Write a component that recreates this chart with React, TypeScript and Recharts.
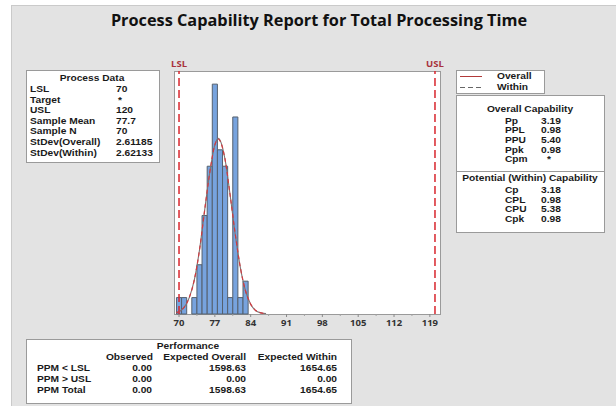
import React from "react";
import {
  ComposedChart, Line, XAxis, YAxis, ReferenceArea, ReferenceLine,
} from "recharts";

// ── data ────────────────────────────────────────────────────────────────────
const binCenters = [70, 71, 72, 73, 74, 75, 76, 77, 78, 79, 80, 81, 82, 83];
const binCounts  = [1, 1, 0, 1, 3, 6, 9, 14, 10, 9, 1, 12, 1, 2];

// fitted curves (counts per bin)
const curveX     = [69.5, 71, 72, 73, 74, 75, 76, 77, 77.7, 78, 79, 80, 81, 82, 83, 84, 85, 86, 87];
const overallFit = [0.08, 0.4, 1.0, 2.1, 3.9, 6.3, 8.6, 10.3, 10.7, 10.6, 9.4, 7.2, 4.8, 2.8, 1.4, 0.6, 0.2, 0.07, 0.02];
const withinFit  = [0.08, 0.41, 1.0, 2.1, 3.9, 6.3, 8.6, 10.3, 10.65, 10.55, 9.4, 7.2, 4.85, 2.8, 1.4, 0.6, 0.21, 0.07, 0.02];

const majorTicks = [70, 77, 84, 91, 98, 105, 112, 119];
const minorTicks = [73.5, 80.5, 87.5, 94.5, 101.5, 108.5, 115.5];

const LSL = 70;
const USL = 120;

const processLabels = ["LSL", "Target", "USL", "Sample Mean", "Sample N", "StDev(Overall)", "StDev(Within)"];
const processValues = ["70", "*", "120", "77.7", "70", "2.61185", "2.62133"];

const overallLabels = ["Pp", "PPL", "PPU", "Ppk", "Cpm"];
const overallValues = ["3.19", "0.98", "5.40", "0.98", "*"];
const withinLabels  = ["Cp", "CPL", "CPU", "Cpk"];
const withinValues  = ["3.18", "0.98", "5.38", "0.98"];

const perfColumns  = ["Observed", "Expected Overall", "Expected Within"];
const perfRows     = ["PPM < LSL", "PPM > USL", "PPM Total"];
const perfObserved = ["0.00", "0.00", "0.00"];
const perfOverall  = ["1598.63", "0.00", "1598.63"];
const perfWithin   = ["1654.65", "0.00", "1654.65"];

const chartData = curveX.map((x, i) => ({ x, overall: overallFit[i], within: withinFit[i] }));

const FONT = "'Open Sans', 'Noto Sans', sans-serif";
const PANEL_FONT = "'Liberation Sans', Arial, sans-serif";
const X_DOMAIN: [number, number] = [69.02, 120.98];

// panel text: narrow font, stretched sideways like the Minitab output
function Txt({ x, y, children, align = "left", size = 8.3, weight = 700, color = "#1a1a1a", sx = 1.23, font = PANEL_FONT }: any) {
  const tx = align === "center" ? "-50%" : align === "right" ? "-100%" : "0";
  const origin = align === "center" ? "center center" : align === "right" ? "right center" : "left center";
  return (
    <span
      style={{
        position: "absolute", left: x, top: y,
        transform: `translate(${tx}, -50%) scaleX(${sx})`, transformOrigin: origin,
        fontFamily: font, fontSize: size, fontWeight: weight, color, whiteSpace: "pre",
        lineHeight: "normal",
      }}
    >
      {children}
    </span>
  );
}

const box = (left: number, top: number, width: number, height: number): React.CSSProperties => ({
  position: "absolute", left, top, width, height, background: "#fff",
  border: "1px solid #9a9a9a", boxSizing: "border-box",
});

export default function App() {
  return (
    <div style={{ position: "fixed", left: 0, top: 0, width: 616, height: 406, background: "#fff", overflow: "hidden" }}>
      {/* gray panel */}
      <div style={{ position: "absolute", left: 11, top: 5, right: 0, bottom: 0, background: "#e3e3e3", borderLeft: "1px solid #cacaca", borderTop: "1px solid #cacaca" }} />

      <Txt x={319} y={20} align="center" size={16.3} weight={700} sx={1} font={FONT} color="#111">
        Process Capability Report for Total Processing Time
      </Txt>

      {/* plot frame */}
      <div style={box(174, 71, 267, 244)} />

      <div style={{ position: "absolute", left: 0, top: 0 }}>
        <ComposedChart
          width={616}
          height={406}
          data={chartData}
          margin={{ top: 71, left: 174, right: 176, bottom: 72 }}
        >
          <XAxis
            dataKey="x"
            type="number"
            domain={X_DOMAIN}
            allowDataOverflow
            ticks={majorTicks}
            interval={0}
            height={20}
            axisLine={false}
            tickSize={3}
            tickMargin={2}
            tickLine={{ stroke: "#8a8a8a" }}
            tick={{ fontSize: 9.5, fill: "#333", fontFamily: FONT, fontWeight: 700 }}
          />
          <YAxis hide type="number" domain={[0, 14.8]} allowDataOverflow />

          {binCenters.map((c, i) =>
            binCounts[i] > 0 ? (
              <ReferenceArea
                key={c}
                x1={c - 0.5}
                x2={c + 0.5}
                y1={0}
                y2={binCounts[i]}
                fill="#77a3de"
                fillOpacity={1}
                stroke="#55606e"
                strokeWidth={1}
                ifOverflow="visible"
              />
            ) : null
          )}

          {minorTicks.map((t) => (
            <ReferenceLine
              key={t}
              segment={[{ x: t, y: 0 }, { x: t, y: -0.12 }]}
              stroke="#a0a0a0"
              ifOverflow="visible"
            />
          ))}

          <ReferenceLine
            x={LSL}
            stroke="#d8262e"
            strokeWidth={1.5}
            strokeDasharray="8 4"
            label={{ value: "LSL", position: "top", fill: "#a8323c", fontSize: 9.5, fontWeight: 700, fontFamily: FONT, offset: 4 }}
          />
          <ReferenceLine
            x={USL}
            stroke="#d8262e"
            strokeWidth={1.5}
            strokeDasharray="8 4"
            label={{ value: "USL", position: "top", fill: "#a8323c", fontSize: 9.5, fontWeight: 700, fontFamily: FONT, offset: 4 }}
          />

          <Line type="monotone" dataKey="overall" stroke="#7d7373" strokeWidth={1.1} dot={false} isAnimationActive={false} />
          <Line type="monotone" dataKey="within" stroke="#d23a40" strokeWidth={1.2} strokeDasharray="4 3" dot={false} isAnimationActive={false} />
        </ComposedChart>
      </div>

      {/* Process Data */}
      <div style={box(26, 70, 134, 93)} />
      <Txt x={92} y={78} align="center">Process Data</Txt>
      {processLabels.map((l, i) => (
        <React.Fragment key={l}>
          <Txt x={30} y={89 + i * 10.6}>{l}</Txt>
          <Txt x={processValues[i] === "*" ? 118 : 116} y={89 + i * 10.6}>{processValues[i]}</Txt>
        </React.Fragment>
      ))}

      {/* legend */}
      <div style={box(456, 70, 89, 24)} />
      <div style={{ position: "absolute", left: 460, top: 76, width: 22, height: 1, background: "#b23a3a" }} />
      <div style={{ position: "absolute", left: 460, top: 87, width: 22, height: 1, background: "repeating-linear-gradient(to right, #666 0 5px, transparent 5px 8px)" }} />
      <Txt x={497} y={76}>Overall</Txt>
      <Txt x={497} y={87}>Within</Txt>

      {/* capability */}
      <div style={box(456, 95, 149, 138)} />
      <div style={{ position: "absolute", left: 456, top: 171, width: 149, height: 1, background: "#9a9a9a" }} />
      <Txt x={530} y={109} align="center">Overall Capability</Txt>
      {overallLabels.map((l, i) => (
        <React.Fragment key={l}>
          <Txt x={505} y={120.5 + i * 9.7}>{l}</Txt>
          <Txt x={overallValues[i] === "*" ? 547 : 541} y={120.5 + i * 9.7}>{overallValues[i]}</Txt>
        </React.Fragment>
      ))}
      <Txt x={530} y={178} align="center">Potential (Within) Capability</Txt>
      {withinLabels.map((l, i) => (
        <React.Fragment key={l}>
          <Txt x={505} y={190 + i * 9.7}>{l}</Txt>
          <Txt x={541} y={190 + i * 9.7}>{withinValues[i]}</Txt>
        </React.Fragment>
      ))}

      {/* performance */}
      <div style={box(26, 339, 326, 65)} />
      <Txt x={188} y={346} align="center">Performance</Txt>
      <Txt x={153} y={357} align="right">{perfColumns[0]}</Txt>
      <Txt x={246} y={357} align="right">{perfColumns[1]}</Txt>
      <Txt x={337} y={357} align="right">{perfColumns[2]}</Txt>
      {perfRows.map((r, i) => (
        <React.Fragment key={r}>
          <Txt x={37} y={368 + i * 11}>{r}</Txt>
          <Txt x={152} y={368 + i * 11} align="right">{perfObserved[i]}</Txt>
          <Txt x={246} y={368 + i * 11} align="right">{perfOverall[i]}</Txt>
          <Txt x={337} y={368 + i * 11} align="right">{perfWithin[i]}</Txt>
        </React.Fragment>
      ))}
    </div>
  );
}
